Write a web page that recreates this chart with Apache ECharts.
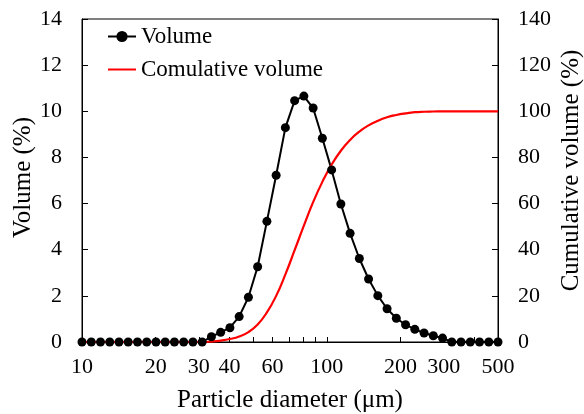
<!DOCTYPE html>
<html>
<head>
<meta charset="utf-8">
<script src="https://cdn.jsdelivr.net/npm/echarts@6/dist/echarts.min.js"></script>
<style>
html,body{margin:0;padding:0;background:#fff;}
#chart{width:584px;height:414px;}
</style>
</head>
<body>
<div id="chart"></div>
<script>
// Particle diameters (µm), log-spaced bins
var diameters = [10.00, 10.91, 11.90, 12.98, 14.16, 15.44, 16.85, 18.38, 20.05, 21.87,
  23.85, 26.02, 28.38, 30.96, 33.77, 36.84, 40.19, 43.84, 47.82, 52.16,
  56.90, 62.07, 67.71, 73.86, 80.56, 87.88, 95.86, 104.57, 114.07, 124.43,
  135.73, 148.06, 161.51, 176.18, 192.18, 209.64, 228.68, 249.45, 272.11, 296.83,
  323.79, 353.20, 385.28, 420.28, 458.45, 500.00];
// Volume (%)
var volume = [0, 0, 0, 0, 0, 0, 0, 0, 0, 0,
  0, 0, 0, 0, 0.23, 0.42, 0.62, 1.10, 1.94, 3.26,
  5.23, 7.23, 9.29, 10.46, 10.66, 10.14, 8.83, 7.46, 5.98, 4.71,
  3.62, 2.73, 2.01, 1.44, 1.03, 0.75, 0.55, 0.39, 0.27, 0.17,
  0, 0, 0, 0, 0, 0];
// Cumulative volume (%)
var cumulative = [0, 0, 0, 0, 0, 0, 0, 0, 0, 0,
  0, 0, 0, 0, 0.2, 0.6, 1.3, 2.4, 4.3, 7.6,
  12.8, 20.0, 29.3, 39.8, 50.4, 60.6, 69.4, 76.9, 82.9, 87.6,
  91.2, 93.9, 95.9, 97.4, 98.4, 99.1, 99.6, 99.8, 99.9, 100,
  100, 100, 100, 100, 100, 100];
var xTickLabels = [10, 20, 30, 40, 60, 100, 200, 300, 500];
var xTicks = [20, 30, 40, 50, 60, 70, 80, 90, 100, 200, 300, 400];

var font = 'Liberation Serif, Times New Roman, serif';
var chart = echarts.init(document.getElementById('chart'), null, {renderer: 'canvas'});

function pairs(xs, ys) { return xs.map(function (x, i) { return [x, ys[i]]; }); }

chart.setOption({
  animation: false,
  backgroundColor: '#fff',
  grid: {left: 82, right: 86, top: 19, bottom: 72, containLabel: false, outerBoundsMode: 'none',
    show: true, borderColor: '#000', borderWidth: 1},
  legend: {
    orient: 'vertical', left: 107, top: 25, padding: 0,
    itemWidth: 28, itemHeight: 14, itemGap: 10,
    textStyle: {fontFamily: font, fontSize: 23, color: '#000', lineHeight: 22},
    data: [{name: 'Volume'}, {name: 'Comulative volume', icon: 'path://M0,0 L28,0 L28,2 L0,2 Z'}]
  },
  xAxis: {
    type: 'log', logBase: 10, min: 10, max: 500,
    name: 'Particle diameter (μm)', nameLocation: 'middle', nameGap: 46, nameMoveOverlap: false,
    nameTextStyle: {fontFamily: font, fontSize: 25, color: '#000'},
    axisLine: {show: true, lineStyle: {color: '#000', width: 1}},
    axisTick: {show: true, inside: true, length: 5, customValues: xTicks, lineStyle: {color: '#000'}},
    axisLabel: {customValues: xTickLabels, margin: 14, fontFamily: font, fontSize: 22, color: '#000'},
    splitLine: {show: false}, minorTick: {show: false}
  },
  yAxis: [{
    type: 'value', min: 0, max: 14, interval: 2, position: 'left',
    name: 'Volume (%)', nameLocation: 'middle', nameGap: 46, nameRotate: 90, nameMoveOverlap: false,
    nameTextStyle: {fontFamily: font, fontSize: 25, color: '#000', padding: [0, 0, 0, 6]},
    axisLine: {show: true, lineStyle: {color: '#000', width: 1}},
    axisTick: {show: true, inside: true, length: 6, lineStyle: {color: '#000'}},
    axisLabel: {margin: 20, fontFamily: font, fontSize: 22, color: '#000'},
    splitLine: {show: false}
  }, {
    type: 'value', min: 0, max: 140, interval: 20, position: 'right',
    name: 'Cumulative volume (%)', nameLocation: 'middle', nameGap: 61, nameRotate: 90, nameMoveOverlap: false,
    nameTextStyle: {fontFamily: font, fontSize: 25, color: '#000', padding: [0, 0, 0, 20]},
    axisLine: {show: true, lineStyle: {color: '#000', width: 1}},
    axisTick: {show: true, inside: true, length: 6, lineStyle: {color: '#000'}},
    axisLabel: {margin: 20, fontFamily: font, fontSize: 22, color: '#000'},
    splitLine: {show: false}
  }],
  series: [{
    name: 'Volume', type: 'line', yAxisIndex: 0,
    data: pairs(diameters, volume),
    symbol: 'circle', symbolSize: 9, showSymbol: true,
    lineStyle: {color: '#000', width: 2}, itemStyle: {color: '#000'},
    clip: false
  }, {
    name: 'Comulative volume', type: 'line', yAxisIndex: 1,
    data: pairs(diameters, cumulative),
    symbol: 'none', smooth: 0.5,
    lineStyle: {color: '#ff0000', width: 2.2}, itemStyle: {color: '#ff0000'},
    clip: false
  }]
});
</script>
</body>
</html>
